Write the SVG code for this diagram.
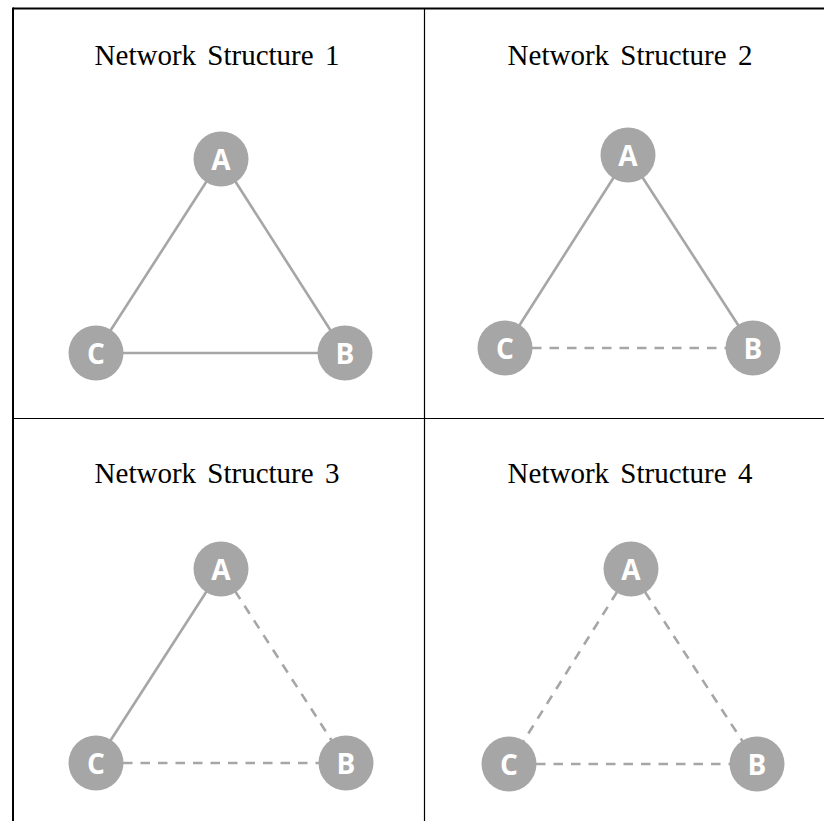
<svg xmlns="http://www.w3.org/2000/svg" width="824" height="821" viewBox="0 0 824 821">
  <style>
    .frame { stroke: #000; fill: none; }
    .title { font-family: "Liberation Serif", "Times New Roman", serif; font-size: 29px; fill: #000; text-anchor: middle; }
    .edge { stroke: #a6a6a6; stroke-width: 2.6; fill: none; }
    .dash { stroke-dasharray: 9.5 8; }
    .node circle { fill: #a6a6a6; }
    .node text { font-family: "Open Sans", "DejaVu Sans", sans-serif; font-weight: bold; font-size: 28px; fill: #fff; text-anchor: middle; dominant-baseline: central; }
  </style>

  <!-- grid frame -->
  <g id="frame">
    <line class="frame" x1="13" y1="8.5" x2="824" y2="8.5" stroke-width="2"/>
    <line class="frame" x1="13" y1="7.5" x2="13" y2="821" stroke-width="2"/>
    <line class="frame" x1="424.5" y1="8" x2="424.5" y2="821" stroke-width="1.2"/>
    <line class="frame" x1="13" y1="418.5" x2="824" y2="418.5" stroke-width="1.2"/>
  </g>

  <!-- titles -->
  <g id="titles">
    <text class="title" x="217" y="65" word-spacing="4">Network Structure 1</text>
    <text class="title" x="630" y="65" word-spacing="4">Network Structure 2</text>
    <text class="title" x="217" y="483" word-spacing="4">Network Structure 3</text>
    <text class="title" x="630" y="483" word-spacing="4">Network Structure 4</text>
  </g>

  <!-- connectors -->
  <g id="connectors">
    <!-- structure 1 -->
    <line class="edge" x1="221" y1="159" x2="345" y2="353"/>
    <line class="edge" x1="221" y1="159" x2="96" y2="353"/>
    <line class="edge" x1="96" y1="353" x2="345" y2="353"/>
    <!-- structure 2 -->
    <line class="edge" x1="628" y1="155" x2="753" y2="348"/>
    <line class="edge" x1="628" y1="155" x2="505" y2="348"/>
    <line class="edge dash" x1="532" y1="348" x2="726" y2="348"/>
    <!-- structure 3 -->
    <line class="edge" x1="221" y1="569" x2="96" y2="763"/>
    <line class="edge dash" x1="235" y1="591" x2="332" y2="741"/>
    <line class="edge dash" x1="123" y1="763" x2="319" y2="763"/>
    <!-- structure 4 -->
    <line class="edge dash" x1="617" y1="592" x2="523" y2="742"/>
    <line class="edge dash" x1="645" y1="592" x2="743" y2="742"/>
    <line class="edge dash" x1="536" y1="764" x2="730" y2="764"/>
  </g>

  <!-- nodes -->
  <g id="n1A" class="node"><circle cx="221" cy="159" r="27.5"/><text x="221" y="159">A</text></g>
  <g id="n1B" class="node"><circle cx="345" cy="353" r="27.5"/><text x="345" y="353">B</text></g>
  <g id="n1C" class="node"><circle cx="96" cy="353" r="27.5"/><text x="96" y="353">C</text></g>

  <g id="n2A" class="node"><circle cx="628" cy="155" r="27.5"/><text x="628" y="155">A</text></g>
  <g id="n2B" class="node"><circle cx="753" cy="348" r="27.5"/><text x="753" y="348">B</text></g>
  <g id="n2C" class="node"><circle cx="505" cy="348" r="27.5"/><text x="505" y="348">C</text></g>

  <g id="n3A" class="node"><circle cx="221" cy="569" r="27.5"/><text x="221" y="569">A</text></g>
  <g id="n3B" class="node"><circle cx="346" cy="763" r="27.5"/><text x="346" y="763">B</text></g>
  <g id="n3C" class="node"><circle cx="96" cy="763" r="27.5"/><text x="96" y="763">C</text></g>

  <g id="n4A" class="node"><circle cx="631" cy="569" r="27.5"/><text x="631" y="569">A</text></g>
  <g id="n4B" class="node"><circle cx="757" cy="764" r="27.5"/><text x="757" y="764">B</text></g>
  <g id="n4C" class="node"><circle cx="509" cy="764" r="27.5"/><text x="509" y="764">C</text></g>
</svg>
